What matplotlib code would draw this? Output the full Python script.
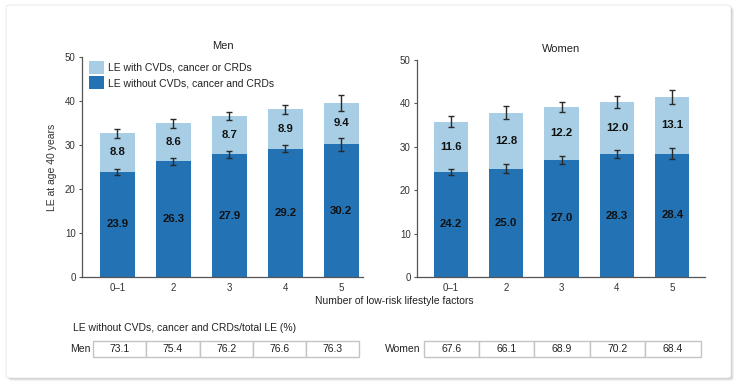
import matplotlib
matplotlib.use("Agg")
import matplotlib.pyplot as plt
from matplotlib.patches import FancyBboxPatch, Rectangle, Patch

plt.rcParams['font.family'] = ['Liberation Sans', 'DejaVu Sans']

categories = ['0\u20131', '2', '3', '4', '5']
men_without = [23.9, 26.3, 27.9, 29.2, 30.2]
men_with = [8.8, 8.6, 8.7, 8.9, 9.4]
men_without_err = [0.75, 0.8, 0.75, 0.8, 1.5]
men_total_err = [1.0, 1.0, 1.0, 1.05, 1.8]
women_without = [24.2, 25.0, 27.0, 28.3, 28.4]
women_with = [11.6, 12.8, 12.2, 12.0, 13.1]
women_without_err = [0.65, 1.0, 0.9, 0.95, 1.3]
women_total_err = [1.3, 1.5, 1.2, 1.35, 1.6]
men_pct = [73.1, 75.4, 76.2, 76.6, 76.3]
women_pct = [67.6, 66.1, 68.9, 70.2, 68.4]

DARK = '#2272b4'
LIGHT = '#a7cee4'
TXT = '#333333'
W, H = 744, 388

fig = plt.figure(figsize=(W / 100, H / 100), dpi=100)
fig.patch.set_facecolor('white')

def fx(px):
    return px / W

def fy(py):
    return 1 - py / H

# card with shadow
for off, a in [(3, 0.05), (2, 0.07), (1, 0.09)]:
    fig.patches.append(FancyBboxPatch((fx(6 + off), fy(378 + off)), fx(731 - 6), (378 - 5) / H,
                                      boxstyle="round,pad=0,rounding_size=0.006",
                                      transform=fig.transFigure, facecolor='black', alpha=a,
                                      edgecolor='none', zorder=-3))
fig.patches.append(FancyBboxPatch((fx(6), fy(378)), fx(731 - 6), (378 - 5) / H,
                                  boxstyle="round,pad=0,rounding_size=0.006",
                                  transform=fig.transFigure, facecolor='white',
                                  edgecolor='#e6e6e6', linewidth=0.6, zorder=-2))


def draw_panel(rect, title, without, with_, err_w, err_t, xlim, legend=False):
    ax = fig.add_axes(rect)
    ax.set_facecolor('none')
    x = list(range(len(categories)))
    totals = [a + b for a, b in zip(without, with_)]
    ax.bar(x, without, width=0.62, color=DARK, zorder=2)
    ax.bar(x, with_, width=0.62, bottom=without, color=LIGHT, zorder=2)
    ax.errorbar(x, without, yerr=err_w, fmt='none', ecolor='#2a2a2a', elinewidth=1.0,
                capsize=2.3, capthick=1.0, zorder=3)
    ax.errorbar(x, totals, yerr=err_t, fmt='none', ecolor='#2a2a2a', elinewidth=1.0,
                capsize=2.3, capthick=1.0, zorder=3)
    for i in x:
        ax.text(i, without[i] / 2, f'{without[i]:.1f}', ha='center', va='center',
                fontsize=8.2, fontweight='bold', color='#111111', zorder=4)
        ax.text(i, without[i] + with_[i] / 2, f'{with_[i]:.1f}', ha='center', va='center',
                fontsize=8.2, fontweight='bold', color='#111111', zorder=4)
    ax.set_xlim(*xlim)
    ax.set_ylim(0, 50)
    ax.set_yticks([0, 10, 20, 30, 40, 50])
    ax.set_xticks(x)
    ax.set_xticklabels(categories)
    for s in ['top', 'right']:
        ax.spines[s].set_visible(False)
    for s in ['left', 'bottom']:
        ax.spines[s].set_color('#555555')
        ax.spines[s].set_linewidth(0.9)
    ax.tick_params(axis='y', length=2.5, width=0.8, labelsize=7, colors='#555555',
                   labelcolor=TXT, pad=2)
    ax.tick_params(axis='x', length=0, labelsize=7, labelcolor=TXT, pad=4)
    ax.set_title(title, fontsize=8, color='#222222', pad=6)
    if legend:
        handles = [Patch(facecolor=LIGHT, edgecolor='none', label='LE with CVDs, cancer or CRDs'),
                   Patch(facecolor=DARK, edgecolor='none', label='LE without CVDs, cancer and CRDs')]
        ax.legend(handles=handles, loc='upper left', bbox_to_anchor=(0.0, 1.015),
                  frameon=False, fontsize=7.5, handlelength=1.4, handleheight=1.55,
                  handletextpad=0.4, labelspacing=0.2, borderaxespad=0.3,
                  labelcolor='#222222')
    return ax

men_rect = [fx(82), fy(277), fx(363 - 82), (277 - 57) / H]
women_rect = [fx(417), fy(277), fx(705 - 417), (277 - 60) / H]
ax_m = draw_panel(men_rect, 'Men', men_without, men_with, men_without_err, men_total_err,
                  (-0.63, 4.39), legend=True)
ax_m.set_ylabel('LE at age 40 years', fontsize=7.5, color=TXT, labelpad=6)
ax_w = draw_panel(women_rect, 'Women', women_without, women_with, women_without_err,
                  women_total_err, (-0.61, 4.59))

fig.text(fx(394), fy(301), 'Number of low-risk lifestyle factors', ha='center', va='center',
         fontsize=7.5, color='#222222')
fig.text(fx(73), fy(328), 'LE without CVDs, cancer and CRDs/total LE (%)', ha='left',
         va='center', fontsize=7.5, color='#222222')

# table rows, aligned with bar columns
def draw_table(rect, xlim, label, values, x0, cw):
    tax = fig.add_axes(rect)
    tax.set_xlim(*xlim)
    tax.set_ylim(0, 1)
    tax.axis('off')
    for i, v in enumerate(values):
        tax.add_patch(Rectangle((x0 + i * cw, 0), cw, 1, facecolor='white', edgecolor='#c4c4c4',
                                linewidth=1.0, clip_on=False))
        tax.text(x0 + i * cw + cw / 2, 0.5, f'{v:.1f}', ha='center', va='center', fontsize=7.5,
                 color='#222222')
    tax.text(x0 - 0.05, 0.5, label, ha='right', va='center', fontsize=7.5, color='#222222')
    return tax

draw_table([men_rect[0], fy(357), men_rect[2], 16 / H], (-0.63, 4.39), 'Men', men_pct, -0.43, 0.95)
draw_table([women_rect[0], fy(357), women_rect[2], 16 / H], (-0.61, 4.59), 'Women', women_pct, -0.49, 1.0)

fig.savefig('out.png', dpi=100, facecolor='white')
